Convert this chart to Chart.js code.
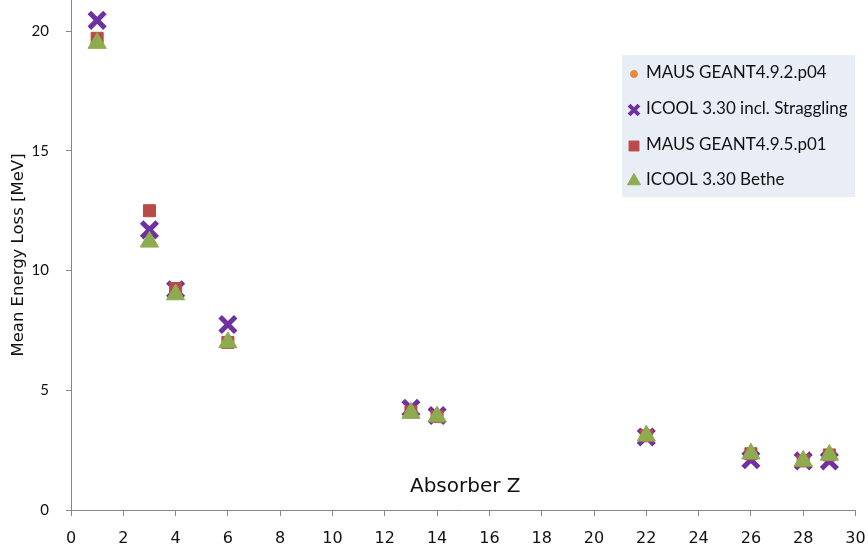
<!DOCTYPE html>
<html>
<head>
<meta charset="utf-8">
<script src="https://cdn.jsdelivr.net/npm/chart.js@4.4.1/dist/chart.umd.min.js"></script>
<style>
  html, body { margin: 0; padding: 0; background: #ffffff; }
  #wrap { position: relative; width: 868px; height: 549px; }
</style>
</head>
<body>
<div id="wrap"><canvas id="c" width="868" height="549"></canvas></div>
<script>
// Absorber atomic numbers
const absorberZ = [1, 3, 4, 6, 13, 14, 22, 26, 28, 29];
// Mean energy loss [MeV] per code / version
const mausG4_9_2 = [19.7, 12.5, 9.2, 7.0, 4.1, 3.9, 3.1, 2.35, 2.05, 2.3];
const icoolStraggling = [20.45, 11.7, 9.2, 7.75, 4.25, 3.95, 3.05, 2.1, 2.05, 2.05];
const mausG4_9_5 = [19.7, 12.5, 9.25, 7.0, 4.1, 3.9, 3.1, 2.35, 2.05, 2.3];
const icoolBethe = [19.5, 11.2, 9.0, 7.0, 4.05, 3.9, 3.1, 2.35, 2.05, 2.3];

const yTickValues = [0, 5, 10, 15, 20];
const xTickValues = [0, 2, 4, 6, 8, 10, 12, 14, 16, 18, 20, 22, 24, 26, 28, 30];

const seriesNames = [
  'MAUS GEANT4.9.2.p04',
  'ICOOL 3.30 incl. Straggling',
  'MAUS GEANT4.9.5.p01',
  'ICOOL 3.30 Bethe'
];

const toPoints = vals => absorberZ.map((z, i) => ({ x: z, y: vals[i] }));

const tickFont = { family: 'Lato, "Open Sans", sans-serif', size: 15 };
const comicFont = '"DejaVu Sans", sans-serif';

// Scales keep a fixed size and do not reserve extra room for overhanging labels
const fixBox = size => s => {
  if (s.isHorizontal()) s.height = size; else s.width = size;
  s.paddingTop = 0; s.paddingBottom = 0; s.paddingLeft = 0; s.paddingRight = 0;
};

// Legend drawn inside the plot, with the same marker styles as the datasets
const boxLegend = {
  id: 'boxLegend',
  afterDraw(chart) {
    const ctx = chart.ctx;
    const x0 = 622, y0 = 55, w = 233, h = 142;
    ctx.save();
    ctx.fillStyle = '#e8edf6';
    ctx.fillRect(x0, y0, w, h);
    const rows = [73, 109, 145, 180];
    const legendStyles = [
      { style: 'circle', r: 3.5, bw: 1 },
      { style: 'crossRot', r: 7, bw: 4 },
      { style: 'rect', r: 7, bw: 1 },
      { style: 'triangle', r: 7.5, bw: 1 }
    ];
    legendStyles.forEach((ls, k) => {
      const ds = chart.data.datasets[k];
      ctx.fillStyle = ds.backgroundColor;
      ctx.strokeStyle = ds.borderColor;
      ctx.lineWidth = ls.bw;
      Chart.helpers.drawPoint(ctx, {
        pointStyle: ls.style, radius: ls.r, borderWidth: ls.bw, rotation: 0
      }, 634, rows[k] + 1);
      ctx.fillStyle = '#111111';
      ctx.font = '17px Lato, "Open Sans", sans-serif';
      ctx.textBaseline = 'middle';
      ctx.textAlign = 'left';
      ctx.fillText(seriesNames[k], 646, rows[k]);
    });
    ctx.restore();
  }
};

// Axis titles: x title sits just above the axis line, y title rotated at the left edge
const axisTitles = {
  id: 'axisTitles',
  afterDraw(chart) {
    const ctx = chart.ctx;
    const a = chart.chartArea;
    ctx.save();
    ctx.fillStyle = '#111111';
    ctx.textAlign = 'center';
    ctx.textBaseline = 'middle';
    ctx.font = '20px ' + comicFont;
    ctx.fillText('Absorber Z', (a.left + a.right) / 2 + 2, 487);
    ctx.translate(19, 255);
    ctx.rotate(-Math.PI / 2);
    ctx.font = '16.5px ' + comicFont;
    ctx.fillText('Mean Energy Loss [MeV]', 0, 0);
    ctx.restore();
  }
};

new Chart(document.getElementById('c'), {
  type: 'scatter',
  data: {
    datasets: [
      {
        label: seriesNames[0],
        data: toPoints(mausG4_9_2),
        pointStyle: 'circle', radius: 4.5, hoverRadius: 4.5,
        backgroundColor: '#e8883a', borderColor: '#e8883a', borderWidth: 1,
        order: 3
      },
      {
        label: seriesNames[1],
        data: toPoints(icoolStraggling),
        pointStyle: 'crossRot', radius: 11, hoverRadius: 11,
        backgroundColor: '#7030a0', borderColor: '#7030a0', borderWidth: 5,
        order: 2
      },
      {
        label: seriesNames[2],
        data: toPoints(mausG4_9_5),
        pointStyle: 'rect', radius: 8.5, hoverRadius: 8.5,
        backgroundColor: '#b94a48', borderColor: '#b94a48', borderWidth: 1,
        order: 1
      },
      {
        label: seriesNames[3],
        data: toPoints(icoolBethe),
        pointStyle: 'triangle', radius: 10.5, hoverRadius: 10.5,
        backgroundColor: '#8dab4f', borderColor: '#8dab4f', borderWidth: 1,
        order: 0
      }
    ]
  },
  options: {
    responsive: false,
    animation: false,
    layout: { autoPadding: false, padding: { left: 0, right: 12.5, top: 0, bottom: 0 } },
    plugins: {
      legend: { display: false },
      tooltip: { enabled: false },
      title: { display: false }
    },
    scales: {
      x: {
        type: 'linear',
        min: 0, max: 30,
        afterBuildTicks: s => { s.ticks = xTickValues.map(v => ({ value: v })); },
        afterFit: fixBox(39),
        grid: { display: true, drawOnChartArea: false, drawTicks: true, tickLength: 6, color: '#868686' },
        border: { display: true, color: '#868686', width: 1 },
        ticks: {
          padding: 13,
          color: '#111111',
          font: { family: comicFont, size: 16 },
          maxRotation: 0, autoSkip: false
        },
        title: { display: false }
      },
      y: {
        type: 'linear',
        min: 0, max: 21.3,
        afterBuildTicks: s => { s.ticks = yTickValues.map(v => ({ value: v })); },
        afterFit: fixBox(71),
        grid: { display: true, drawOnChartArea: false, drawTicks: true, tickLength: 5, color: '#868686' },
        border: { display: true, color: '#868686', width: 1 },
        ticks: {
          padding: 17,
          color: '#111111',
          font: tickFont
        },
        title: { display: false }
      }
    }
  },
  plugins: [boxLegend, axisTitles]
});
</script>
</body>
</html>
